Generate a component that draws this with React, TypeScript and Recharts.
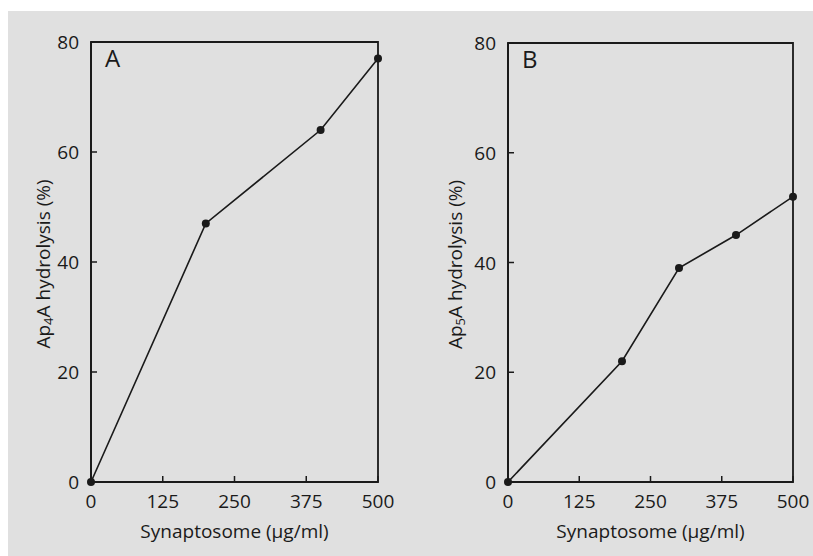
import React from 'react';
import { LineChart, Line, XAxis, YAxis, ReferenceArea } from 'recharts';

// values
const doseA = [0, 200, 400, 500];
const hydrolysisA = [0, 47, 64, 77];
const doseB = [0, 200, 300, 400, 500];
const hydrolysisB = [0, 22, 39, 45, 52];
const xTicks = [0, 125, 250, 375, 500];
const yTicks = [0, 20, 40, 60, 80];

const FONT = '"Open Sans", sans-serif';
const INK = '#1a1a1a';

const toRows = (xs: number[], ys: number[]) => xs.map((x, i) => ({ x, y: ys[i] }));

// tick drawn inward, label outside
const XTick = (props: any) => {
  const { x, y, payload } = props;
  return (
    <g>
      <line x1={x} y1={y} x2={x} y2={y - 6} stroke={INK} strokeWidth={1.5} />
      <text x={x} y={y + 26} textAnchor="middle" fontFamily={FONT} fontSize={19} fill={INK}>
        {payload.value}
      </text>
    </g>
  );
};

const YTick = (props: any) => {
  const { x, y, payload } = props;
  return (
    <g>
      <line x1={x} y1={y} x2={x + 6} y2={y} stroke={INK} strokeWidth={1.5} />
      <text x={x - 12} y={y + 7} textAnchor="end" fontFamily={FONT} fontSize={19} fill={INK}>
        {payload.value}
      </text>
    </g>
  );
};

const XTitle = (props: any) => {
  const vb = props.viewBox;
  return (
    <text x={vb.x + vb.width / 2} y={vb.y + 56} textAnchor="middle" fontFamily={FONT} fontSize={19} fill={INK}>
      Synaptosome (µg/ml)
    </text>
  );
};

const makeYTitle = (sub: string, dx: number) => (props: any) => {
  const vb = props.viewBox;
  const cx = vb.x + dx;
  const cy = vb.y + vb.height / 2 + 2;
  return (
    <text
      x={cx}
      y={cy}
      transform={`rotate(-90 ${cx} ${cy})`}
      textAnchor="middle"
      fontFamily={FONT}
      fontSize={19}
      fill={INK}
      dy={7}
    >
      Ap<tspan fontSize={13} dy={3}>{sub}</tspan>
      <tspan dy={-3}>A hydrolysis (%)</tspan>
    </text>
  );
};

const makeLetter = (letter: string) => (props: any) => {
  const vb = props.viewBox;
  return (
    <text x={vb.x + 14} y={vb.y + 25} fontFamily={FONT} fontSize={24} fill={INK}>
      {letter}
    </text>
  );
};

interface PanelProps {
  rows: { x: number; y: number }[];
  letter: string;
  sub: string;
  width: number;
  yWidth: number;
  titleDx: number;
  margin: { top: number; right: number; bottom: number; left: number };
}

const Panel: React.FC<PanelProps> = ({ rows, letter, sub, width, yWidth, titleDx, margin }) => (
  <LineChart width={width} height={545} data={rows} margin={margin}>
    <XAxis
      type="number"
      dataKey="x"
      domain={[0, 500]}
      ticks={xTicks}
      interval={0}
      height={74}
      tickSize={0}
      tickMargin={0}
      tickLine={false}
      tick={<XTick />}
      axisLine={{ stroke: INK, strokeWidth: 2 }}
      label={XTitle}
    />
    <YAxis
      type="number"
      dataKey="y"
      domain={[0, 80]}
      ticks={yTicks}
      interval={0}
      width={yWidth}
      tickSize={0}
      tickMargin={0}
      tickLine={false}
      tick={<YTick />}
      axisLine={{ stroke: INK, strokeWidth: 2 }}
      label={makeYTitle(sub, titleDx)}
    />
    <ReferenceArea
      x1={0}
      x2={500}
      y1={0}
      y2={80}
      fill="none"
      stroke={INK}
      strokeWidth={1.8}
      label={makeLetter(letter)}
    />
    <Line
      type="linear"
      dataKey="y"
      stroke={INK}
      strokeWidth={1.6}
      dot={{ r: 4, fill: INK, stroke: INK, strokeWidth: 0 }}
      activeDot={false}
      isAnimationActive={false}
    />
  </LineChart>
);

export default function App() {
  return (
    <div style={{ position: 'fixed', left: 8, top: 11, width: 805, height: 545, background: '#e0e0e0' }}>
      <div style={{ position: 'absolute', left: 0, top: 0 }}>
        <Panel
          rows={toRows(doseA, hydrolysisA)}
          letter="A"
          sub="4"
          width={400}
          yWidth={83}
          titleDx={35}
          margin={{ top: 31, right: 30, bottom: 0, left: 0 }}
        />
      </div>
      <div style={{ position: 'absolute', left: 400, top: 0 }}>
        <Panel
          rows={toRows(doseB, hydrolysisB)}
          letter="B"
          sub="5"
          width={405}
          yWidth={100}
          titleDx={47}
          margin={{ top: 32, right: 20, bottom: 0, left: 0 }}
        />
      </div>
    </div>
  );
}
